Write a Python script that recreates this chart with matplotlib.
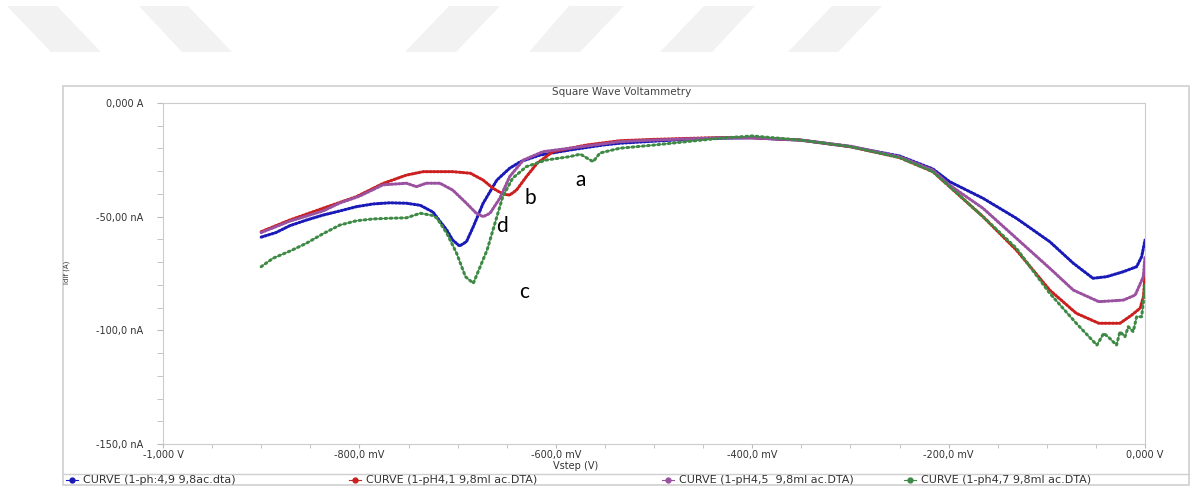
"""Square wave voltammetry curves (four pH values)."""

import matplotlib
matplotlib.use("Agg")
import matplotlib.pyplot as plt
from matplotlib.lines import Line2D
from matplotlib.patches import Polygon, Rectangle

matplotlib.rcParams["font.family"] = ["DejaVu Sans"]

# ---- data (mV, nA) ----
v_blue = [-900, -885, -871, -854, -837, -820, -803, -786, -769, -752, -738, -725, -718,
          -711, -705, -698, -691, -684, -674, -660, -647, -636, -616, -586, -552, -535,
          -500, -467, -433, -400, -370, -351, -300, -250, -216, -199, -165, -131, -97,
          -73, -53, -39, -22, -8.5, -3.4, 0]
i_blue = [-59, -57, -54, -51.5, -49.3, -47.5, -45.6, -44.4, -43.9, -44.1, -45, -48, -52,
          -55.9, -60.3, -62.9, -61, -54.4, -44.1, -33.9, -28.7, -25.8, -22.9, -20.7, -18.5, -17.7,
          -16.8, -16, -15.5, -15.3, -16, -16.3, -19.2, -23.3, -29, -34.6, -41.9, -50.7, -61,
          -70.5, -77.1, -76.4, -74.2, -72, -67.6, -60.3]

v_red = [-900, -871, -837, -803, -776, -752, -735, -718, -705, -687, -674, -664, -654,
         -647, -640, -630, -619, -603, -569, -535, -500, -467, -433, -400, -351, -300,
         -250, -216, -199, -165, -131, -97, -70, -47, -25.5, -13.6, -5, -1.5, 0]
i_red = [-56.6, -51.5, -46.3, -41.2, -35.4, -31.7, -30.2, -30.2, -30.2, -30.9, -33.9, -37.5, -40,
         -40.5, -38.3, -32.4, -26.5, -21.4, -18.5, -16.6, -16, -15.6, -15.2, -15.3, -16.3, -19.2,
         -24, -30.2, -36.8, -50, -64.7, -82.3, -92.5, -96.9, -96.9, -93.3, -90.3, -85, -75]

v_purple = [-900, -871, -837, -820, -800, -776, -752, -742, -732, -718, -705, -691, -681,
            -674, -667, -657, -647, -633, -613, -586, -535, -500, -467, -433, -400, -351,
            -300, -250, -216, -199, -165, -131, -97, -73, -47, -22, -10, -1.7, 0]
i_purple = [-57, -52, -47.5, -44, -41, -36, -35.3, -36.8, -35.3, -35.3, -38.3, -44.1, -48.5,
            -50, -48.5, -41.9, -32.4, -25.1, -21.4, -19.9, -17, -16.3, -15.8, -15.3, -15.3, -16.3,
            -19, -23.6, -29.5, -36.1, -46.3, -59.5, -72.7, -82.3, -87.4, -86.7, -84.5, -76.4, -67.6]

v_green = [-900, -888, -870, -854, -837, -820, -803, -786, -769, -752, -738, -725, -721,
           -711, -701, -692, -684, -677, -670, -664, -654, -644, -630, -610, -586, -575,
           -568, -562, -555, -535, -500, -467, -433, -400, -351, -300, -250, -216, -199,
           -165, -131, -97, -70, -49, -42, -36, -29, -25.5, -20.4, -17, -12, -8.5, -3.4,
           -1.5, 0]
i_green = [-72, -68.3, -65, -61.7, -57.5, -53.7, -51.8, -51, -50.7, -50.5, -48.5, -49.5, -50.7,
           -57.3, -66.1, -76.4, -79.3, -72, -64.7, -55.9, -41.2, -33.1, -28, -25.1, -23.6, -22.5,
           -24.3, -25.8, -22, -19.9, -18.5, -17, -15.5, -14.5, -16.3, -19.2, -24, -30.2, -36.8,
           -50, -63.9, -83.7, -96.9, -106.5, -101.3, -103.5, -106.5, -100.6, -102.8, -98.4, -100.6, -94, -94,
           -87, -80]

curve_labels = ["CURVE (1-ph:4,9 9,8ac.dta)", "CURVE (1-pH4,1 9,8ml ac.DTA)",
                "CURVE (1-pH4,5  9,8ml ac.DTA)", "CURVE (1-ph4,7 9,8ml ac.DTA)"]
curve_colors = ["#1a1ab8", "#cc1f1f", "#9a52a0", "#3e8a45"]

peak_letters = ["a", "b", "d", "c"]
letter_v = [-575, -626, -655, -632]
letter_i = [-34, -42, -54, -83]

xtick_vals = [-1000, -800, -600, -400, -200, 0]
xtick_text = ["-1,000 V", "-800,0 mV", "-600,0 mV", "-400,0 mV", "-200,0 mV", "0,000 V"]
ytick_vals = [0, -50, -100, -150]
ytick_text = ["0,000 A", "-50,00 nA", "-100,0 nA", "-150,0 nA"]

W, H = 1196, 486


def fx(px):
    return px / W


def fy(py):
    return 1 - py / H


fig = plt.figure(figsize=(W / 100, H / 100), dpi=100)

# faint watermark bands at the top of the page
bands = [((7, 57), (51, 101)), ((139, 188), (182, 232)), ((449, 500), (405, 456)),
         ((569, 624), (529, 580)), ((704, 755), (660, 712)), ((832, 882), (788, 838))]
for (t0, t1), (b0, b1) in bands:
    poly = Polygon([(fx(t0), fy(6)), (fx(t1), fy(6)), (fx(b1), fy(52)), (fx(b0), fy(52))],
                   closed=True, transform=fig.transFigure, color="#f2f2f2", lw=0)
    fig.add_artist(poly)

# outer chart frame and legend separator
fig.add_artist(Rectangle((fx(63), fy(485)), fx(1189) - fx(63), fy(86) - fy(485),
                         transform=fig.transFigure, fill=False, ec="#cfcfcf", lw=1.2))
fig.add_artist(Line2D([fx(63), fx(1189)], [fy(474), fy(474)], transform=fig.transFigure,
                      color="#cfcfcf", lw=1.0))

fig.text(fx(622), fy(92), "Square Wave Voltammetry", fontsize=7.5, color="#444444",
         ha="center", va="center")

ax = fig.add_axes([fx(163), fy(444), fx(1145) - fx(163), fy(103) - fy(444)])

series = [(v_blue, i_blue), (v_red, i_red), (v_purple, i_purple), (v_green, i_green)]
for k, ((v, i), color) in enumerate(zip(series, curve_colors)):
    ax.plot(v, i, color=color, lw=0.7, zorder=2 + k)
    gap = 1.2 if k == 3 else 0.7
    ax.plot(v, i, color=color, lw=2.2, ls=(0, (0.5, gap)), dash_capstyle="round",
            zorder=2 + k)

for s, v, i in zip(peak_letters, letter_v, letter_i):
    ax.text(v, i, s, fontsize=15, family=["Lato", "DejaVu Sans"], ha="center", va="center")

ax.set_xlim(-1000, 0)
ax.set_ylim(-150, 0)
ax.set_xticks(xtick_vals)
ax.set_xticklabels(xtick_text)
ax.set_xticks(range(-1000, 1, 50), minor=True)
ax.set_yticks(ytick_vals)
ax.set_yticklabels(ytick_text)
ax.set_yticks(range(-150, 1, 10), minor=True)
ax.tick_params(axis="x", which="both", length=3, color="#bbbbbb", labelsize=7,
               labelcolor="#333333", pad=1.5)
ax.tick_params(axis="y", which="both", length=4, color="#bbbbbb", labelsize=7,
               labelcolor="#333333", pad=10)
for sp in ax.spines.values():
    sp.set_color("#cccccc")
    sp.set_linewidth(0.8)

fig.text(fx(576), fy(466), "Vstep (V)", fontsize=7, color="#333333", ha="center", va="center")
fig.text(fx(67), fy(272), "Idif (A)", fontsize=5, color="#333333", ha="center", va="center",
         rotation=90)

# legend row along the bottom of the frame
legend_x = [72, 355, 668, 910]
for px, label, color in zip(legend_x, curve_labels, curve_colors):
    fig.add_artist(Line2D([fx(px - 6), fx(px + 6)], [fy(480), fy(480)], transform=fig.transFigure,
                          color=color, lw=0.8))
    fig.add_artist(Line2D([fx(px)], [fy(480)], transform=fig.transFigure, color=color,
                          marker="o", markersize=3.5, lw=0))
    fig.text(fx(px + 11), fy(480), label, fontsize=8, color="#333333", ha="left", va="center")

fig.savefig("out.png", dpi=100)
plt.close(fig)
